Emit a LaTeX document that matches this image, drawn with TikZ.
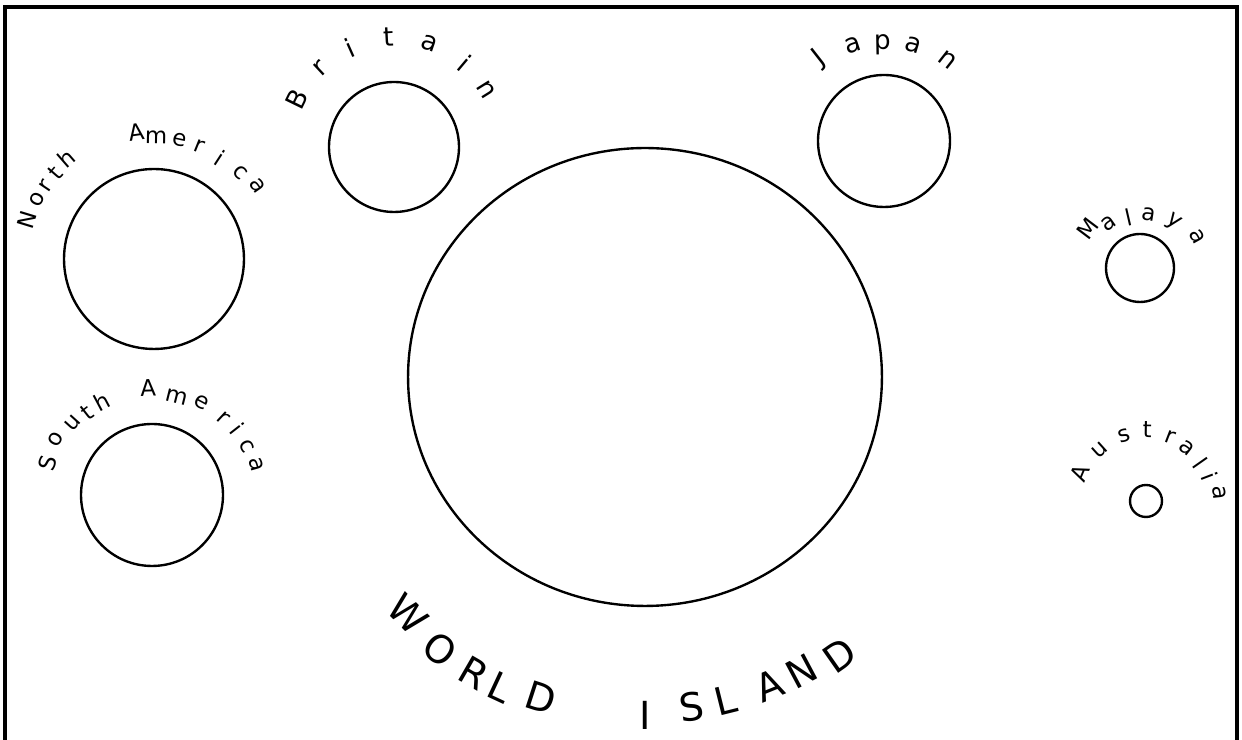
\documentclass[tikz,border=0pt]{standalone}
\usepackage{fontspec}
\setmainfont{DejaVu Sans}
\usetikzlibrary{calc,shapes.geometric}
\tikzset{
  land/.style={circle, draw, line width=1.35pt, inner sep=0pt},
  lbl/.style={inner sep=0pt, font=\fontsize{13}{13}\selectfont},
  bigger/.style={lbl, font=\fontsize{15}{15}\selectfont},
  huge/.style={inner sep=0pt, font=\fontsize{22}{22}\selectfont},
  frame/.style={line width=1.8pt}
}

\begin{document}
\begin{tikzpicture}[x=0.02cm, y=0.02cm]
    \useasboundingbox (0,0) rectangle (1242,740);

    % 边框（下边开口）
    \coordinate (bl) at (5,0);
    \coordinate (tl) at (5,733);
    \coordinate (tr) at (1237,733);
    \coordinate (br) at (1237,0);
    \draw[frame] (bl) -- (tl) -- (tr) -- (br);

    % 各块陆地
    \node[land, minimum size=3.6cm] (na) at (154,481) {};
    \node[land, minimum size=2.84cm] (sa) at (152,245) {};
    \node[land, minimum size=2.6cm] (brit) at (394,593) {};
    \node[land, minimum size=2.64cm] (jap) at (884,599) {};
    \node[land, minimum size=1.36cm] (mal) at (1140,472) {};
    \node[land, minimum size=0.64cm] (aus) at (1146,239) {};
    \node[ellipse, draw, line width=1.35pt, inner sep=0pt,
          minimum width=9.48cm, minimum height=9.16cm] (wi) at (645,363) {};

    % 弧形标注
    \foreach \ch/\ang/\rad [count=\i] in {N/163/133, o/153/131, r/146/130, t/139/131, h/131/133,
        A/98/128, m/89/122, e/78/122, r/68/122, i/57/121, c/45/122, a/35/127}
        \node[lbl, rotate=\ang-90] (na-\i) at ($(na)+(\ang:\rad)$) {\ch};
    \foreach \ch/\ang/\rad [count=\i] in {S/163/109, o/150/111, u/138/107, t/128/105, h/118/106,
        A/92/107, m/76/101, e/62/105, r/47/105, i/38/108, c/27/107, a/16/109}
        \node[lbl, rotate=\ang-90] (sa-\i) at ($(sa)+(\ang:\rad)$) {\ch};
    \foreach \ch/\ang/\rad [count=\i] in {B/154/108, r/133/108, i/114/109, t/93/110,
        a/71/110, i/50/110, n/32/109}
        \node[bigger, rotate=\ang-90] (brit-\i) at ($(brit)+(\ang:\rad)$) {\ch};
    \foreach \ch/\ang/\rad [count=\i] in {J/128/105, a/108/101, p/91/96, a/73/100, n/52/103}
        \node[bigger, rotate=\ang-90] (jap-\i) at ($(jap)+(\ang:\rad)$) {\ch};
    \foreach \ch/\ang/\rad [count=\i] in {M/143/66, a/125/55, l/103/52, a/81/54, y/54/57, a/29/65}
        \node[lbl, rotate=\ang-90] (mal-\i) at ($(mal)+(\ang:\rad)$) {\ch};
    \foreach \ch/\ang/\rad [count=\i] in {A/157/72, u/132/69, s/108/69, t/89/71, r/69/68,
        a/52/67, l/35/66, i/21/68, a/6/74}
        \node[lbl, rotate=\ang-90] (aus-\i) at ($(aus)+(\ang:\rad)$) {\ch};

    % 世界岛
    \foreach \ch/\ang/\rad [count=\i] in {W/-135/335, O/-127/341, R/-120/342, L/-115/342, D/-108/337,
        I/-90/338, S/-82/333, L/-76/333, A/-68/333, N/-62/333, D/-55/340}
        \node[huge, rotate=\ang+90] (wi-\i) at ($(wi)+(\ang:\rad)$) {\ch};
\end{tikzpicture}
\end{document}
